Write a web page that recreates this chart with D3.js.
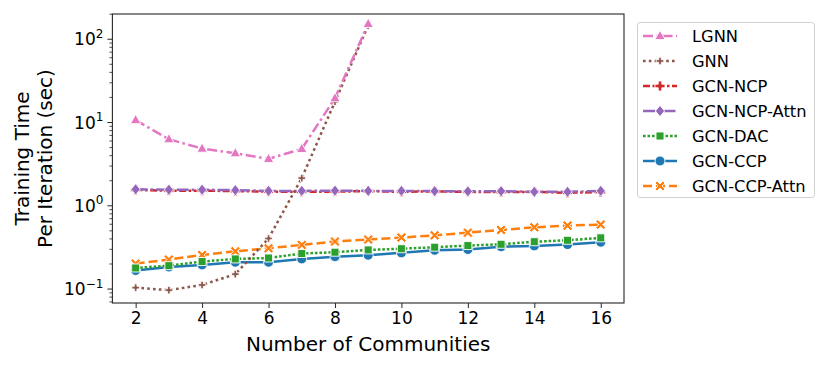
<!DOCTYPE html>
<html>
<head>
<meta charset="utf-8">
<script src="https://cdn.jsdelivr.net/npm/d3@7"></script>
<style>
  body { margin: 0; background: #fff; }
  text { font-family: "DejaVu Sans", sans-serif; fill: #000; }
</style>
</head>
<body>
<script>
// number of communities on x
var communities = [2, 3, 4, 5, 6, 7, 8, 9, 10, 11, 12, 13, 14, 15, 16];

// training time per iteration (sec)
var lgnn = [10.7, 6.3, 4.86, 4.28, 3.66, 4.82, 19.6, 153];
var gnn = [0.104, 0.097, 0.112, 0.151, 0.405, 2.15, 17.8, 146];
var gcnNcp = [1.55, 1.52, 1.52, 1.50, 1.48, 1.47, 1.48, 1.50, 1.47, 1.49, 1.47, 1.46, 1.47, 1.43, 1.46];
var gcnNcpAttn = [1.58, 1.56, 1.56, 1.54, 1.51, 1.51, 1.52, 1.51, 1.51, 1.50, 1.49, 1.50, 1.47, 1.47, 1.51];
var gcnDac = [0.179, 0.191, 0.214, 0.230, 0.236, 0.267, 0.277, 0.295, 0.305, 0.318, 0.333, 0.345, 0.370, 0.385, 0.412];
var gcnCcp = [0.167, 0.184, 0.195, 0.210, 0.210, 0.230, 0.245, 0.255, 0.272, 0.292, 0.298, 0.322, 0.330, 0.342, 0.365];
var gcnCcpAttn = [0.202, 0.226, 0.257, 0.284, 0.309, 0.339, 0.372, 0.393, 0.415, 0.442, 0.476, 0.513, 0.552, 0.578, 0.594];

var xTicks = [2, 4, 6, 8, 10, 12, 14, 16];
var yTicks = [0.1, 1, 10, 100];
var yTickExp = ["\u22121", "0", "1", "2"];

// legend order
var series = [
  {name: "LGNN", values: lgnn, color: "#e377c2", dash: "10,3.5,2.5,3.5", marker: "tri"},
  {name: "GNN", values: gnn, color: "#8c564b", dash: "2.6,3.2", marker: "plusSmall"},
  {name: "GCN-NCP", values: gcnNcp, color: "#d62728", dash: "7,2.5,2.5,2.5", marker: "plus"},
  {name: "GCN-NCP-Attn", values: gcnNcpAttn, color: "#9467bd", dash: "12,3,2.5,3", marker: "diamond"},
  {name: "GCN-DAC", values: gcnDac, color: "#2ca02c", dash: "2.6,1.9", marker: "square"},
  {name: "GCN-CCP", values: gcnCcp, color: "#1f77b4", dash: null, marker: "circle"},
  {name: "GCN-CCP-Attn", values: gcnCcpAttn, color: "#ff7f0e", dash: "9,4", marker: "x"}
];
// drawing order (later = on top)
var drawOrder = ["GCN-CCP", "GCN-CCP-Attn", "GCN-DAC", "GCN-NCP", "GCN-NCP-Attn", "GNN", "LGNN"];

var width = 830, height = 369;
var margin = {top: 14, right: 206, bottom: 66, left: 112.4};

var svg = d3.select("body").append("svg")
  .attr("width", width)
  .attr("height", height);

var x = d3.scaleLinear()
  .domain([1.3, 16.7])
  .range([margin.left, width - margin.right]);

var y = d3.scaleLog()
  .domain([0.068, 201])
  .range([height - margin.bottom, margin.top]);

function markerPath(type) {
  if (type == "tri") return "M0,-5.6L5.2,3.6L-5.2,3.6Z";
  if (type == "diamond") return "M0,-5.6L4.6,0L0,5.6L-4.6,0Z";
  if (type == "square") return "M-4,-4H4V4H-4Z";
  if (type == "circle") return d3.symbol(d3.symbolCircle, 78)();
  if (type == "plus") return "M-1.8,-5H1.8V-1.8H5V1.8H1.8V5H-1.8V1.8H-5V-1.8H-1.8Z";
  if (type == "plusSmall") return "M-1.3,-3.8H1.3V-1.3H3.8V1.3H1.3V3.8H-1.3V1.3H-3.8V-1.3H-1.3Z";
  if (type == "x") return "M-5,-3L-3,-5L0,-2L3,-5L5,-3L2,0L5,3L3,5L0,2L-3,5L-5,3L-2,0Z";
}

var line = d3.line()
  .x(function(d, i) { return x(communities[i]); })
  .y(function(d) { return y(d); });

var plot = svg.append("g");

drawOrder.forEach(function(name) {
  var s = series.find(function(d) { return d.name == name; });
  var g = plot.append("g");
  g.append("path")
    .attr("d", line(s.values))
    .attr("fill", "none")
    .attr("stroke", s.color)
    .attr("stroke-width", 2.5)
    .attr("stroke-dasharray", s.dash)
    .attr("stroke-linecap", "butt");
  g.selectAll("path.mk")
    .data(s.values)
    .enter()
    .append("path")
    .attr("class", "mk")
    .attr("d", markerPath(s.marker))
    .attr("transform", function(d, i) { return "translate(" + x(communities[i]) + "," + y(d) + ")"; })
    .attr("fill", s.color)
    .attr("stroke", "#fff")
    .attr("stroke-width", 0.9);
});

// frame
svg.append("rect")
  .attr("x", margin.left)
  .attr("y", margin.top)
  .attr("width", width - margin.right - margin.left)
  .attr("height", height - margin.bottom - margin.top)
  .attr("fill", "none")
  .attr("stroke", "#262626")
  .attr("stroke-width", 1.1);

// x axis
var xAxis = svg.append("g")
  .attr("transform", "translate(0," + (height - margin.bottom) + ")")
  .call(d3.axisBottom(x).tickValues(xTicks).tickSize(5).tickPadding(4));
xAxis.select(".domain").remove();
xAxis.selectAll("line").attr("stroke", "#262626");
xAxis.selectAll("text")
  .attr("font-size", "17px")
  .attr("font-family", "DejaVu Sans")
  .attr("fill", "#000");

// y axis: major ticks with 10^n labels, minor ticks
var minor = [];
[0.01, 0.1, 1, 10, 100].forEach(function(base) {
  for (var k = 2; k <= 9; k++) {
    var v = base * k;
    if (v > y.domain()[0] && v < y.domain()[1]) minor.push(v);
  }
});
var yAxis = svg.append("g").attr("transform", "translate(" + margin.left + ",0)");
yAxis.selectAll("line.minor")
  .data(minor)
  .enter()
  .append("line")
  .attr("x1", -3).attr("x2", 0)
  .attr("y1", function(d) { return y(d); })
  .attr("y2", function(d) { return y(d); })
  .attr("stroke", "#262626")
  .attr("stroke-width", 0.8);
yAxis.selectAll("line.major")
  .data(yTicks)
  .enter()
  .append("line")
  .attr("x1", -5).attr("x2", 0)
  .attr("y1", function(d) { return y(d); })
  .attr("y2", function(d) { return y(d); })
  .attr("stroke", "#262626")
  .attr("stroke-width", 1);
var yLab = yAxis.selectAll("text.tl")
  .data(yTicks)
  .enter()
  .append("text")
  .attr("class", "tl")
  .attr("x", -9)
  .attr("y", function(d) { return y(d) + 6; })
  .attr("text-anchor", "end")
  .attr("font-size", "17px");
yLab.append("tspan").text("10");
yLab.append("tspan")
  .attr("dy", -7.5)
  .attr("font-size", "12px")
  .text(function(d, i) { return yTickExp[i]; });

// axis titles
svg.append("text")
  .attr("x", (margin.left + width - margin.right) / 2)
  .attr("y", 351)
  .attr("text-anchor", "middle")
  .attr("font-size", "20px")
  .text("Number of Communities");

var ymid = (margin.top + height - margin.bottom) / 2;
svg.append("text")
  .attr("transform", "translate(29," + ymid + ") rotate(-90)")
  .attr("text-anchor", "middle")
  .attr("font-size", "20px")
  .text("Training Time");
svg.append("text")
  .attr("transform", "translate(52," + ymid + ") rotate(-90)")
  .attr("text-anchor", "middle")
  .attr("font-size", "20px")
  .text("Per Iteration (sec)");

// legend
var legend = svg.append("g");
legend.append("rect")
  .attr("x", 637.5).attr("y", 22.5)
  .attr("width", 177).attr("height", 175)
  .attr("rx", 3)
  .attr("fill", "#fff")
  .attr("stroke", "#d0d0d0")
  .attr("stroke-width", 1);

var item = legend.selectAll("g.item")
  .data(series)
  .enter()
  .append("g")
  .attr("class", "item")
  .attr("transform", function(d, i) { return "translate(0," + (36 + i * 25) + ")"; });
item.append("line")
  .attr("x1", 643).attr("x2", 677)
  .attr("y1", 0).attr("y2", 0)
  .attr("stroke", function(d) { return d.color; })
  .attr("stroke-width", 2.5)
  .attr("stroke-dasharray", function(d) { return d.dash; });
item.append("path")
  .attr("d", function(d) { return markerPath(d.marker); })
  .attr("transform", "translate(660,0)")
  .attr("fill", function(d) { return d.color; })
  .attr("stroke", "#fff")
  .attr("stroke-width", 0.9);
item.append("text")
  .attr("x", 692)
  .attr("y", 6)
  .attr("font-size", "16.3px")
  .text(function(d) { return d.name; });
</script>
</body>
</html>
